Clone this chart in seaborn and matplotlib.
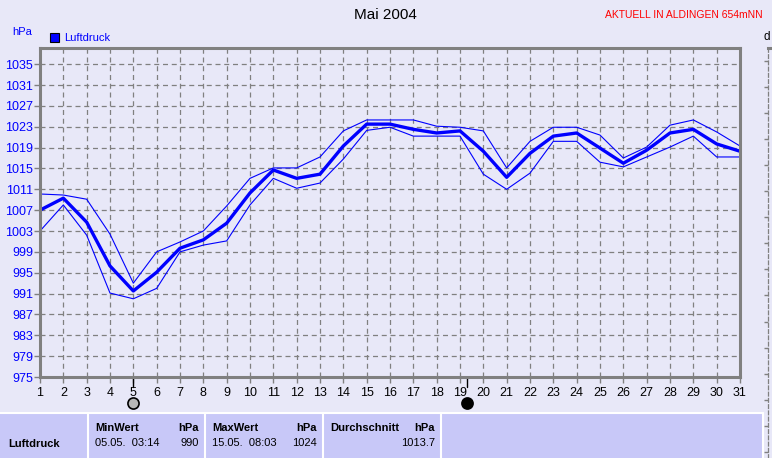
import numpy as np
import pandas as pd
import matplotlib
matplotlib.use("Agg")
import matplotlib.pyplot as plt
import matplotlib.transforms as mtransforms
import seaborn as sns

# Luftdruck Mai 2004, daily values (hPa)
days = list(range(1, 32))
p_mean = [1007.0, 1009.3, 1004.7, 996.3, 991.5, 995.1, 999.7, 1001.3, 1004.5, 1010.3,
          1014.7, 1013.1, 1013.9, 1019.3, 1023.5, 1023.5, 1022.5, 1021.8, 1022.2, 1018.3,
          1013.3, 1017.9, 1021.2, 1021.8, 1018.9, 1016.0, 1018.5, 1021.8, 1022.5, 1019.7,
          1018.3]
p_max = [1010.1, 1009.9, 1009.1, 1002.4, 993.0, 999.0, 1000.9, 1003.0, 1007.8, 1013.1,
         1015.1, 1015.1, 1017.2, 1022.2, 1024.3, 1024.3, 1024.3, 1023.1, 1022.9, 1022.2,
         1015.1, 1020.2, 1022.9, 1022.9, 1021.4, 1017.0, 1019.1, 1023.3, 1024.3, 1022.0,
         1019.3]
p_min = [1003.0, 1008.0, 1002.2, 991.1, 990.0, 992.0, 999.0, 1000.3, 1001.1, 1008.0,
         1013.1, 1011.2, 1012.2, 1016.8, 1022.3, 1022.9, 1021.2, 1021.2, 1021.2, 1013.9,
         1011.0, 1014.1, 1020.2, 1020.2, 1016.2, 1015.3, 1017.2, 1019.1, 1021.2, 1017.2,
         1017.2]
y_ticks = list(range(975, 1036, 4))
moon_days = [5.0, 19.3]
moon_full = [False, True]

stats_head = ["MinWert", "MaxWert", "Durchschnitt"]
stats_when = ["05.05.  03:14", "15.05.  08:03", ""]
stats_val = ["990", "1024", "1013.7"]

bg = "#E8E8F8"
tbl = "#C8C8F8"
blue = "#0000FF"
gray = "#808080"

sns.set_style("white")
plt.rcParams["font.family"] = ["Liberation Sans", "DejaVu Sans"]
plt.rcParams["text.color"] = "black"

W, H = 772, 458
fig = plt.figure(figsize=(W / 100, H / 100), dpi=100, facecolor=bg)


def fx(px):
    return px / W


def fy(py):
    return 1 - py / H


# main plot area
ax = fig.add_axes([fx(40), fy(377), fx(700), (377 - 48) / H])
ax.set_facecolor(bg)
df = pd.DataFrame({"Tag": days, "mean": p_mean, "max": p_max, "min": p_min})
sns.lineplot(data=df, x="Tag", y="max", color=blue, lw=0.8, ax=ax)
sns.lineplot(data=df, x="Tag", y="min", color=blue, lw=0.8, ax=ax)
sns.lineplot(data=df, x="Tag", y="mean", color=blue, lw=2.4, ax=ax)

ax.set_xlim(1, 31)
ax.set_ylim(975, 1038.1)
ax.set_xticks(days)
ax.set_yticks(y_ticks)
ax.set_xlabel("")
ax.set_ylabel("")
ax.grid(True, color=gray, ls=(0, (4, 3)), lw=0.9)
for s in ax.spines.values():
    s.set_color(gray)
    s.set_linewidth(2.2)
ax.tick_params(axis="y", colors=gray, labelcolor=blue, labelsize=9, length=4, width=1,
               pad=1, direction="out", left=True)
ax.tick_params(axis="x", colors=gray, labelcolor="black", labelsize=9, length=4, width=1,
               pad=3, direction="out", bottom=True)

# moon phases
trans = mtransforms.blended_transform_factory(ax.transData, ax.transAxes)
for d, full in zip(moon_days, moon_full):
    ax.plot([d, d], [0, -0.03], color="black", lw=1, transform=trans, clip_on=False)
    ax.plot(d, -0.08, "o", ms=8, mec="black", mew=1.2,
            mfc="black" if full else "#B8B8B8", transform=trans, clip_on=False)

# texts on top
fig.text(fx(385), fy(15), "Mai 2004", ha="center", va="center", fontsize=11)
fig.text(fx(763), fy(15), "AKTUELL IN ALDINGEN 654mNN", ha="right", va="center",
         fontsize=7.5, color="#FF0000")
fig.text(fx(12), fy(32), "hPa", ha="left", va="center", fontsize=8, color=blue)
fig.patches.append(plt.Rectangle((fx(50), fy(42)), fx(9), 9 / H, facecolor=blue,
                                 edgecolor="black", lw=0.8, transform=fig.transFigure))
fig.text(fx(64), fy(38), "Luftdruck", ha="left", va="center", fontsize=8, color=blue)

# cut-off neighbour chart at the right edge
ax2 = fig.add_axes([fx(768), fy(458), fx(30), (458 - 48) / H])
ax2.set_facecolor(bg)
ax2.set_ylim(0, 410)
ax2.set_xticks([])
ax2.set_yticks(np.arange(6, 400, 26.1))
ax2.set_yticklabels([])
ax2.tick_params(axis="y", colors=gray, length=3, width=1, left=True)
for k in ["right", "bottom"]:
    ax2.spines[k].set_visible(False)
ax2.spines["left"].set_color(gray)
ax2.spines["left"].set_linestyle((0, (3, 2)))
ax2.spines["left"].set_linewidth(0.9)
ax2.spines["top"].set_color(gray)
ax2.spines["top"].set_linewidth(2.2)
fig.text(fx(764), fy(37), "d", ha="left", va="center", fontsize=8.5)

# statistics table at the bottom
fig.patches.append(plt.Rectangle((0, 0), fx(763), fy(413), facecolor=tbl,
                                 edgecolor="none", transform=fig.transFigure))
fig.lines.append(plt.Line2D([0, fx(763)], [fy(413), fy(413)], color="white", lw=1.5,
                            transform=fig.transFigure))
cols = [88, 205, 323, 441, 763]
for c in cols:
    fig.lines.append(plt.Line2D([fx(c), fx(c)], [0, fy(413)], color="white", lw=1.5,
                                transform=fig.transFigure))
fig.text(fx(8), fy(444), "Luftdruck", ha="left", va="center", fontsize=8, weight="bold")
for i in range(3):
    x0, x1 = cols[i] + 7, cols[i + 1] - 6
    fig.text(fx(x0), fy(428), stats_head[i], ha="left", va="center", fontsize=8,
             weight="bold")
    fig.text(fx(x1), fy(428), "hPa", ha="right", va="center", fontsize=8, weight="bold")
    if stats_when[i]:
        fig.text(fx(x0), fy(443), stats_when[i], ha="left", va="center", fontsize=8)
    fig.text(fx(x1), fy(443), stats_val[i], ha="right", va="center", fontsize=8)

fig.savefig("out.png", dpi=100, facecolor=bg)
